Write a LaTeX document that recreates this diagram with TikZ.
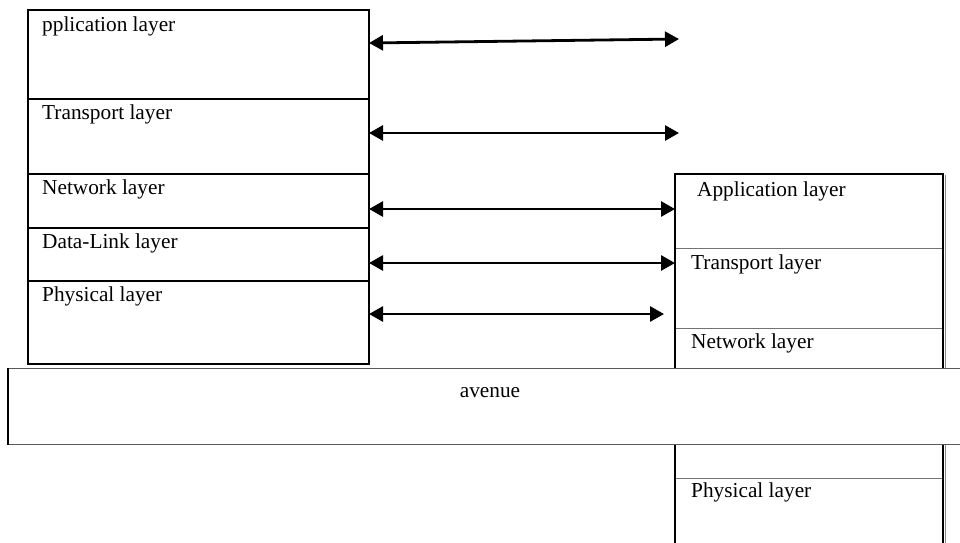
\documentclass[tikz,border=0pt]{standalone}
\usepackage{fontspec}
\setmainfont{Liberation Serif}
\usetikzlibrary{arrows.meta,calc}
\begin{document}
\begin{tikzpicture}[x=1pt,y=-1pt,
  lbox/.style={draw=black, line width=1.6pt, minimum width=341pt, anchor=north west, inner sep=0pt, outer sep=0pt},
  rbox/.style={draw=black!55, line width=1pt, minimum width=268pt, anchor=north west, inner sep=0pt, outer sep=0pt},
  lbl/.style={anchor=base west, inner sep=0pt, font=\fontsize{21.3}{25}\selectfont},
  biarrow/.style={line width=2.8pt, {Triangle[length=14pt,width=15pt]}-{Triangle[length=14pt,width=15pt]}}]
\clip (0,0) rectangle (960,542);
\useasboundingbox (0,0) rectangle (960,542);
\fill[white] (0,0) rectangle (960,542);
% left stack
\node[lbox, minimum height=89pt] (L1) at (28,10) {};
\node[lbox, minimum height=75pt] (L2) at (28,99) {};
\node[lbox, minimum height=54pt] (L3) at (28,174) {};
\node[lbox, minimum height=53pt] (L4) at (28,228) {};
\node[lbox, minimum height=83pt] (L5) at (28,281) {};
\node[lbl] (t1) at ($(L1.north west)+(14,21)$) {pplication layer};
\node[lbl] (t2) at ($(L2.north west)+(14,20)$) {Transport layer};
\node[lbl] (t3) at ($(L3.north west)+(14,20)$) {Network layer};
\node[lbl] (t4) at ($(L4.north west)+(14,20)$) {Data-Link layer};
\node[lbl] (t5) at ($(L5.north west)+(14,20)$) {Physical layer};
% right stack
\node[rbox, minimum height=74pt] (R1) at (675,174) {};
\node[rbox, minimum height=80pt] (R2) at (675,248) {};
\node[rbox, minimum height=150pt] (R3) at (675,328) {};
\node[rbox, minimum height=80pt] (R4) at (675,478) {};
\draw[black!45, line width=1pt] ($(R1.north east)+(2,1)$) -- ($(R4.south east)+(2,0)$);
\draw[black, line width=1.6pt] (R4.south west) -- (R1.north west) -- (R1.north east) -- (R4.south east);
\node[lbl] (u1) at ($(R1.north west)+(22,22)$) {Application layer};
\node[lbl] (u2) at ($(R2.north west)+(16,21)$) {Transport layer};
\node[lbl] (u3) at ($(R3.north west)+(16,20)$) {Network layer};
\node[lbl] (u5) at ($(R4.north west)+(16,19)$) {Physical layer};
% avenue
\node[draw=black!65, line width=1.2pt, fill=white, anchor=north west, minimum width=980pt, minimum height=76pt, inner sep=0pt] (av) at (8,368) {};
\draw[black, line width=1.2pt] (av.north west) -- (av.south west);
\node[lbl, anchor=base] (avt) at ($(av.north west)+(482,29)$) {avenue};
% arrows
\coordinate (e1) at (679,39);
\coordinate (e2) at (679,133);
\coordinate (e5) at (664,314);
\draw[biarrow] ($(L1.north east)+(0,33)$) -- (e1);
\draw[biarrow] ($(L2.north east)+(0,34)$) -- (e2);
\draw[biarrow] ($(L3.north east)+(0,35)$) -- ($(R1.north west)+(0,35)$);
\draw[biarrow] ($(L4.north east)+(0,35)$) -- ($(R2.north west)+(0,15)$);
\draw[biarrow] ($(L5.north east)+(0,33)$) -- (e5);
\end{tikzpicture}
\end{document}
